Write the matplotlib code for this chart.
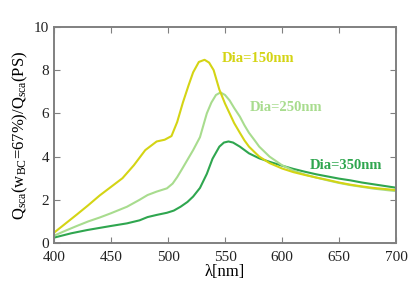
import matplotlib
matplotlib.use("Agg")
import matplotlib.pyplot as plt

plt.rcParams['font.family'] = ['Liberation Serif', 'DejaVu Serif']
plt.rcParams['mathtext.fontset'] = 'custom'
plt.rcParams['mathtext.rm'] = 'Liberation Serif'
plt.rcParams['mathtext.it'] = 'Liberation Serif:italic'

# wavelength grid and curves
wl_150 = [400, 410, 420, 430, 440, 450, 460, 470, 480, 490, 497, 503, 508, 513, 518, 522,
          527, 532, 536, 540, 545, 550, 554, 558, 563, 567, 571, 576, 580, 589, 600, 610,
          620, 630, 640, 650, 660, 670, 680, 690, 700]
q_150 = [0.48, 0.9, 1.32, 1.75, 2.2, 2.6, 3.0, 3.6, 4.3, 4.7, 4.78, 4.95, 5.6, 6.5, 7.3, 7.9,
         8.38, 8.48, 8.35, 8.0, 7.1, 6.45, 6.0, 5.55, 5.1, 4.75, 4.46, 4.2, 4.0, 3.7, 3.45, 3.28,
         3.15, 3.03, 2.92, 2.8, 2.7, 2.62, 2.55, 2.5, 2.45]

wl_250 = [400, 410, 420, 430, 440, 450, 464, 475, 482, 490, 499, 504, 508, 512, 517, 522,
          528, 534, 538, 542, 546, 550, 554, 558, 563, 567, 571, 576, 580, 589, 600, 610,
          620, 630, 640, 650, 660, 670, 680, 690, 700]
q_250 = [0.34, 0.57, 0.79, 1.0, 1.18, 1.38, 1.68, 2.0, 2.22, 2.38, 2.53, 2.75, 3.05, 3.4, 3.85, 4.3,
         4.9, 6.0, 6.5, 6.85, 6.97, 6.85, 6.6, 6.25, 5.85, 5.45, 5.1, 4.75, 4.46, 4.0, 3.6, 3.35,
         3.17, 3.03, 2.9, 2.78, 2.68, 2.6, 2.52, 2.46, 2.4]

wl_350 = [400, 415, 429, 440, 450, 464, 475, 482, 490, 499, 505, 511, 517, 522, 528, 534,
          539, 545, 549, 553, 557, 563, 571, 580, 589, 600, 610, 620, 630, 640, 650, 660,
          670, 680, 690, 700]
q_350 = [0.25, 0.45, 0.6, 0.7, 0.79, 0.91, 1.05, 1.2, 1.3, 1.4, 1.5, 1.68, 1.9, 2.15, 2.55, 3.2,
         3.9, 4.46, 4.65, 4.7, 4.65, 4.46, 4.15, 3.92, 3.76, 3.58, 3.43, 3.3, 3.18, 3.08, 2.98, 2.9,
         2.8, 2.72, 2.64, 2.56]

c_150 = '#d4d414'
c_250 = '#a8dc8e'
c_350 = '#2fa64f'

fig = plt.figure(figsize=(4.16, 2.93), dpi=100)
ax = fig.add_axes([0.13, 0.1706, 0.822, 0.7374])

ax.plot(wl_350, q_350, color=c_350, lw=1.5)
ax.plot(wl_250, q_250, color=c_250, lw=1.5)
ax.plot(wl_150, q_150, color=c_150, lw=1.5)

ax.text(547, 8.56, 'Dia=150nm', color=c_150, fontsize=10.5, fontweight='bold', va='center')
ax.text(571.5, 6.25, 'Dia=250nm', color=c_250, fontsize=10.5, fontweight='bold', va='center')
ax.text(624, 3.61, 'Dia=350nm', color=c_350, fontsize=10.5, fontweight='bold', va='center')

ax.set_xlim(400, 700)
ax.set_ylim(0, 10)
ax.set_xticks([400, 450, 500, 550, 600, 650, 700])
ax.set_yticks([0, 2, 4, 6, 8, 10])
ax.tick_params(direction='in', top=True, right=True, color='#808080', length=4,
               labelsize=11, labelcolor='#222222')
ax.tick_params(axis='x', pad=6)
for s in ax.spines.values():
    s.set_color('#808080')
    s.set_linewidth(1.4)

ax.set_xlabel('λ[nm]', fontsize=12, labelpad=0)
ax.set_ylabel('Q$_{\\mathrm{sca}}$(w$_{\\mathrm{BC}}$=67%)/Q$_{\\mathrm{sca}}$(PS)', fontsize=12, labelpad=3)

fig.savefig('out.png', dpi=100)
